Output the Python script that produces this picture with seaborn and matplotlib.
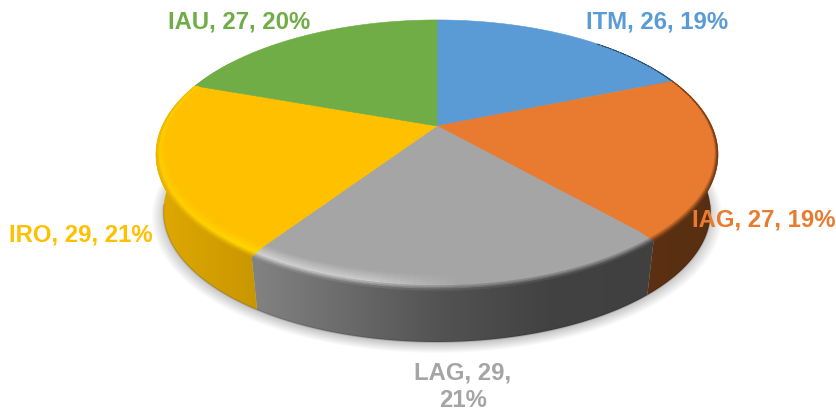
#!/usr/bin/env python3
"""3D looking pie chart: count and share per group, clockwise from the top"""

import numpy as np
import matplotlib
matplotlib.use("Agg")
import matplotlib.pyplot as plt
from matplotlib.collections import PolyCollection
from matplotlib.patches import Polygon
from matplotlib.colors import to_rgb
import seaborn as sns

# Data
groups = ["ITM", "IAG", "LAG", "IRO", "IAU"]
counts = [26, 27, 29, 29, 27]
shares = [19, 19, 21, 21, 20]
colors = ["#5B9BD5", "#E97B30", "#A5A5A5", "#FFC000", "#70AD47"]

# Geometry of the tilted disc, in pixels
CX, CY = 437, 126
RX, RY = 274.8, 128.2
PERSP = 0.209
DEPTH = 59
FLOOR_SCALE = 0.975
RIM_BOOST = [1.2, 1.2, 1.28, 1.13, 1.2]

sns.set_theme(style="white")
plt.rcParams['font.family'] = ['Liberation Sans', 'DejaVu Sans']
palette = sns.color_palette(colors)


def project(theta, r=1.0, lift=0.0):
    """Angle clockwise from the top (radians) to pixel position"""
    d = 1 + PERSP * r * np.cos(theta)
    return (CX + RX * r * np.sin(theta) / d,
            CY + lift - RY * r * np.cos(theta) / d)


def side_shade(x):
    return np.interp(x, [157, 260, 440, 550, 720], [0.88, 0.78, 0.50, 0.40, 0.38])


def highlight(x):
    return np.interp(x, [157, 260, 370, 460], [0.55, 1.0, 0.8, 0.0])


fig = plt.figure(figsize=(8.36, 4.13), dpi=100)
ax = fig.add_axes([0, 0, 1, 1])
ax.axis('off')

edges = np.cumsum([0] + counts) / sum(counts) * 2 * np.pi

# Soft shadow under the disc
around = np.linspace(0, 2 * np.pi, 240)
for grow in np.linspace(1.04, 0.99, 12):
    sx, sy = project(around, FLOOR_SCALE * grow, DEPTH + 3)
    ax.fill(sx, sy, color='#000000', alpha=0.021, lw=0, zorder=1)

# Outer wall, gradient runs left to right and is clipped per slice
xs = np.arange(0, 836)
for i, c in enumerate(palette):
    t = np.linspace(edges[i], edges[i + 1], 100)
    t = t[np.cos(t) < 0.55]
    if len(t) == 0:
        continue
    x0, y0 = project(t)
    x1, y1 = project(t, FLOOR_SCALE, DEPTH)
    outline = np.c_[np.r_[x0, x1[::-1]], np.r_[y0, y1[::-1]]]
    grad = side_shade(xs)[None, :, None] * np.array(c)[None, None, :]
    im = ax.imshow(grad, extent=(0, 836, 413, 0), aspect='auto', zorder=2, interpolation='bilinear')
    im.set_clip_path(Polygon(outline, closed=True, transform=ax.transData))

# Slightly darker line along the floor edge
t = np.linspace(np.pi * 0.55, np.pi * 1.45, 200)
x1, y1 = project(t, FLOOR_SCALE, DEPTH)
ax.plot(x1, y1, color='#000000', alpha=0.15, lw=1.2, zorder=2.5)

# Flat top of each slice
for i, c in enumerate(palette):
    t = np.linspace(edges[i], edges[i + 1], 80)
    x, y = project(t)
    ax.fill(np.r_[CX, x], np.r_[CY, y], color=c, lw=0.4, zorder=3)

# Rounded rim between top and wall
polys, cols = [], []
rings = np.linspace(0, 1, 11)
for i, c in enumerate(palette):
    c = np.array(c)
    bright = np.minimum(c * RIM_BOOST[i], 1)
    steps = np.arange(edges[i], edges[i + 1] + 0.02, 0.02)
    for a, b in zip(steps[:-1], steps[1:]):
        mid = (a + b) / 2
        if mid < 0.75 or mid > edges[4]:
            continue
        b = min(b, edges[i + 1])
        front = (1 - np.cos(mid)) / 2
        width = 0.012 + 0.06 * front ** 2
        drop = 2.5 * front ** 2
        xm, _ = project(mid)
        h = highlight(xm)
        shade = side_shade(xm)
        for u, v in zip(rings[:-1], rings[1:]):
            ra = 1 - width * (1 - u)
            rb = 1 - width * (1 - v)
            m = (u + v) / 2
            if m < 0.65:
                col = c + (bright - c) * h * m / 0.65
            else:
                k = (m - 0.65) / 0.35 * min(1, front * 1.3 if xm < 300 else 1)
                col = (c + (bright - c) * h) * (1 - k) + c * shade * k
            polys.append([project(a, ra, drop * u), project(b, ra, drop * u),
                          project(b, rb, drop * v), project(a, rb, drop * v)])
            cols.append(col)
ax.add_collection(PolyCollection(polys, facecolors=cols, edgecolors=cols, linewidths=0.3, zorder=4))

# Labels
label_pos = [(657, 22), (764, 220), (463, 387), (81, 235), (239, 22)]
for i, g in enumerate(groups):
    if g == "LAG":
        txt = f"{g}, {counts[i]},\n{shares[i]}%"
    else:
        txt = f"{g}, {counts[i]}, {shares[i]}%"
    ax.text(label_pos[i][0], label_pos[i][1], txt, color=to_rgb(colors[i]), fontsize=17.2,
            fontweight='bold', ha='center', va='center', linespacing=1.25, zorder=6)

ax.set_xlim(0, 836)
ax.set_ylim(413, 0)

plt.savefig("out.png", dpi=100)
